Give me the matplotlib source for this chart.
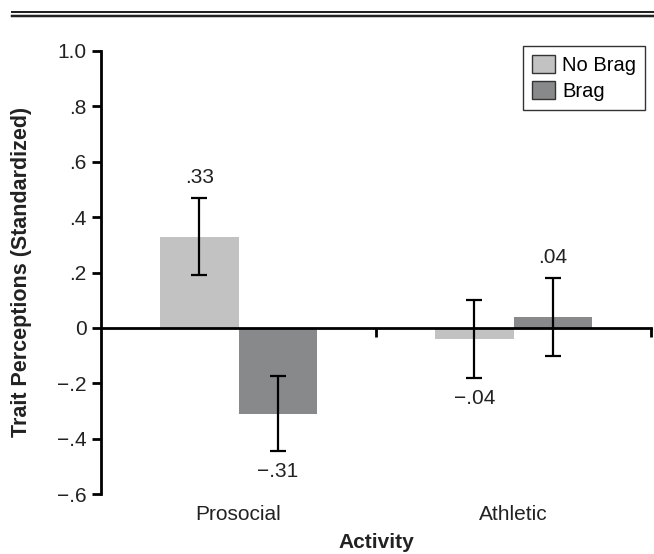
import matplotlib
matplotlib.use("Agg")
import matplotlib.pyplot as plt
from matplotlib.lines import Line2D
from matplotlib.patches import Patch
import numpy as np

plt.rcParams["font.family"] = ["Liberation Sans", "DejaVu Sans"]

activities = ["Prosocial", "Athletic"]
conditions = ["No Brag", "Brag"]
means = {"No Brag": [0.33, -0.04], "Brag": [-0.31, 0.04]}
errors = {"No Brag": [0.14, 0.14], "Brag": [0.135, 0.14]}
value_labels = {"No Brag": [".33", "\u2212.04"], "Brag": ["\u2212.31", ".04"]}
colors = {"No Brag": "#c1c2c1", "Brag": "#88898a"}

yticks = [-0.6, -0.4, -0.2, 0, 0.2, 0.4, 0.6, 0.8, 1.0]
ytick_labels = ["\u2212.6", "\u2212.4", "\u2212.2", "0", ".2", ".4", ".6", ".8", "1.0"]

fig = plt.figure(figsize=(6.54, 5.54), dpi=100)
ax = fig.add_axes([101 / 654, 60 / 554, 550 / 654, 443 / 554])

x = np.arange(len(activities))
w = 0.284
for j, cond in enumerate(conditions):
    pos = x + (j - 0.5) * w
    ax.bar(pos, means[cond], w, color=colors[cond], zorder=1)
    ax.errorbar(pos, means[cond], yerr=errors[cond], fmt="none", ecolor="black",
                elinewidth=1.6, capsize=5.5, capthick=1.6, zorder=3)
    for p, m, e, lab in zip(pos, means[cond], errors[cond], value_labels[cond]):
        if m >= 0:
            ax.text(p, m + e + 0.04, lab, ha="center", va="bottom", fontsize=15, color="#222")
        else:
            ax.text(p, m - e - 0.04, lab, ha="center", va="top", fontsize=15, color="#222")

ax.set_xlim(-0.5, 1.5)
ax.set_ylim(-0.6, 1.0)
ax.set_yticks(yticks)
ax.set_yticklabels(ytick_labels, fontsize=15, color="#222")
ax.set_xticks([0.5, 1.5])
ax.set_xticklabels([])

ax.spines["top"].set_visible(False)
ax.spines["right"].set_visible(False)
ax.spines["bottom"].set_position(("data", 0))
ax.spines["bottom"].set_zorder(2)
for s in ("left", "bottom"):
    ax.spines[s].set_linewidth(2)
ax.tick_params(axis="both", direction="out", length=6.5, width=2)
ax.tick_params(axis="y", pad=4)

trans = ax.get_xaxis_transform()
for i, name in enumerate(activities):
    ax.text(i, -0.047, name, transform=trans, ha="center", va="center", fontsize=15, color="#222")
ax.text(0.5, -0.11, "Activity", transform=ax.transAxes, ha="center", va="center",
        fontsize=15, fontweight="bold", color="#222")
fig.text(22 / 654, (554 - 272) / 554, "Trait Perceptions (Standardized)", rotation=90,
         ha="center", va="center", fontsize=15.5, fontweight="bold", color="#222")

handles = [Patch(facecolor=colors[c], edgecolor="#333", linewidth=1) for c in conditions]
leg = ax.legend(handles, conditions, loc="upper right", fontsize=14.5,
                bbox_to_anchor=(645 / 654, (554 - 46) / 554), bbox_transform=fig.transFigure,
                borderaxespad=0, fancybox=False, framealpha=1, edgecolor="#333",
                handlelength=1.15, handleheight=1.0, handletextpad=0.35, labelspacing=0.28,
                borderpad=0.45)
leg.get_frame().set_linewidth(1)

# double rule at top
for yy, lw in ((11.5, 2), (15.5, 2.5)):
    fig.add_artist(Line2D([12 / 654, 1], [(554 - yy) / 554] * 2, color="#222", linewidth=lw * 0.72,
                          transform=fig.transFigure))

fig.savefig("out.png", dpi=100)
